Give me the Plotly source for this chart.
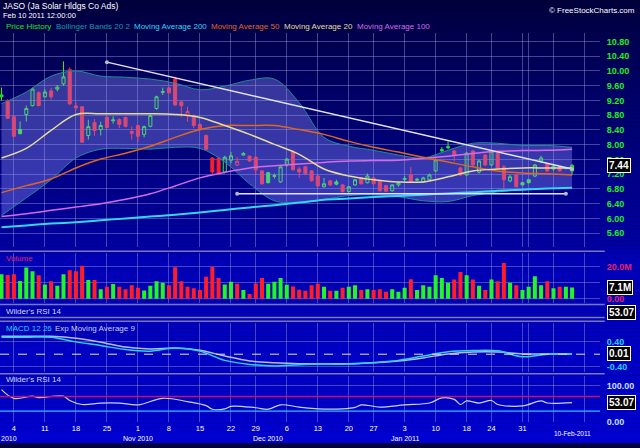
import pandas as pd
import plotly.graph_objects as go

# ---- data -------------------------------------------------------------
holidays = ["2010-11-25", "2010-12-24", "2011-01-17"]
days = [d.strftime("%Y-%m-%d") for d in pd.bdate_range("2010-09-30", "2011-02-18")]
days = [d for d in days if d not in holidays]
pos = {d: i for i, d in enumerate(days)}

opens = [9.30, 9.20, 8.76, 8.41, 8.82, 9.06, 9.41, 9.30, 9.46, 9.51, 9.65, 10.04, 9.05, 9.03, 8.25, 8.60,
         8.41, 8.74, 8.65, 8.68, 8.74, 8.36, 8.52, 8.28, 8.50, 8.98, 9.42, 9.54, 9.78, 9.16, 8.79, 8.76,
         8.55, 8.25, 7.64, 7.64, 7.26, 7.58, 7.45, 7.72, 7.69, 7.66, 7.29, 7.24, 7.14, 6.99, 7.45, 7.80,
         7.34, 7.40, 7.29, 7.15, 6.86, 7.02, 6.99, 6.91, 6.73, 6.91, 7.10, 6.97, 7.10, 7.02, 6.89, 6.75,
         6.91, 7.06, 7.18, 7.04, 6.99, 7.05, 7.29, 7.84, 7.92, 7.83, 7.37, 7.18, 7.83, 7.26, 7.72, 7.45,
         7.77, 7.40, 7.02, 7.18, 6.97, 7.05, 7.15, 7.56, 7.48, 7.34, 7.40, 7.36, 7.29]
highs = [9.55, 9.24, 8.80, 8.63, 9.06, 9.55, 9.45, 9.51, 9.54, 9.62, 10.26, 10.10, 9.15, 9.05, 8.68, 8.70,
         8.63, 8.78, 8.77, 8.72, 8.76, 8.50, 8.54, 8.52, 8.82, 9.33, 9.55, 9.57, 9.84, 9.20, 9.03, 8.82,
         8.58, 8.28, 7.66, 7.66, 7.70, 7.80, 7.66, 7.80, 7.71, 7.68, 7.31, 7.26, 7.22, 7.42, 7.64, 7.85,
         7.40, 7.42, 7.31, 7.18, 7.10, 7.04, 7.05, 6.93, 6.88, 7.07, 7.12, 7.22, 7.12, 7.04, 6.91, 6.93,
         6.99, 7.15, 7.40, 7.10, 7.13, 7.22, 7.62, 7.94, 8.09, 7.86, 7.40, 7.80, 7.85, 7.60, 7.75, 7.86,
         7.80, 7.45, 7.18, 7.20, 6.99, 7.07, 7.48, 7.70, 7.50, 7.45, 7.42, 7.40, 7.47]
lows = [9.20, 8.70, 8.20, 8.28, 8.63, 9.04, 9.04, 9.28, 9.22, 9.45, 9.60, 9.08, 8.92, 8.05, 8.14, 8.24,
        8.25, 8.45, 8.57, 8.45, 8.47, 8.14, 8.07, 8.20, 8.47, 8.95, 9.35, 9.38, 9.05, 8.75, 8.62, 8.45,
        8.38, 7.85, 7.18, 7.20, 7.22, 7.50, 7.42, 7.70, 7.54, 7.18, 6.92, 6.95, 7.08, 6.97, 7.40, 7.30,
        7.10, 7.18, 7.00, 6.86, 6.84, 6.88, 6.90, 6.70, 6.70, 6.88, 6.92, 6.95, 6.92, 6.73, 6.72, 6.73,
        6.86, 7.00, 6.97, 7.00, 6.97, 7.02, 7.26, 7.78, 7.88, 7.55, 7.15, 7.15, 7.40, 7.22, 7.42, 7.42,
        7.35, 6.78, 6.98, 6.84, 6.89, 6.95, 7.12, 7.50, 7.26, 7.30, 7.27, 7.33, 7.18]
closes = [9.35, 8.72, 8.23, 8.30, 8.98, 9.51, 9.06, 9.43, 9.30, 9.56, 9.84, 9.11, 9.00, 8.07, 8.49, 8.38,
          8.52, 8.47, 8.67, 8.55, 8.50, 8.31, 8.23, 8.49, 8.79, 9.30, 9.44, 9.41, 9.08, 9.06, 8.90, 8.52,
          8.41, 7.88, 7.26, 7.23, 7.66, 7.70, 7.55, 7.76, 7.56, 7.32, 6.94, 6.97, 7.16, 7.40, 7.61, 7.32,
          7.26, 7.21, 7.02, 6.88, 6.94, 6.91, 6.93, 6.73, 6.86, 7.05, 6.94, 7.15, 6.94, 6.75, 6.74, 6.91,
          6.97, 7.08, 6.99, 7.06, 7.10, 7.18, 7.59, 7.86, 7.94, 7.72, 7.18, 7.77, 7.45, 7.56, 7.45, 7.83,
          7.37, 7.05, 7.13, 6.86, 6.91, 6.97, 7.45, 7.64, 7.29, 7.42, 7.29, 7.38, 7.44]
volume_m = [15.4, 15.0, 15.4, 11.2, 19.6, 17.3, 14.8, 8.9, 11.0, 8.1, 15.4, 17.9, 17.3, 20.8, 11.7, 11.7,
            6.0, 7.5, 9.2, 7.5, 6.0, 8.5, 6.9, 5.2, 8.1, 11.0, 10.0, 8.5, 19.8, 11.0, 7.5, 6.5,
            5.4, 13.8, 20.0, 13.1, 8.9, 10.6, 9.4, 5.4, 2.9, 9.6, 13.1, 9.4, 10.6, 13.1, 8.8, 7.7,
            5.6, 5.0, 8.5, 9.4, 7.5, 5.0, 5.0, 6.9, 7.5, 8.5, 5.4, 6.0, 5.4, 6.0, 4.4, 6.0,
            4.4, 6.9, 12.3, 5.4, 8.5, 7.5, 14.8, 13.1, 10.0, 12.1, 16.9, 14.8, 12.1, 8.1, 5.4, 12.1,
            11.0, 22.5, 10.0, 8.5, 5.4, 7.5, 14.2, 8.5, 11.0, 6.5, 7.5, 7.5, 7.1]

# indicator readings, every 4th session
ind_idx = list(range(0, 93, 4))
ma20 = [7.64, 7.90, 8.39, 8.82, 8.84, 8.84, 8.84, 8.82, 8.74, 8.52, 8.28, 8.01,
        7.74, 7.34, 7.15, 7.05, 6.99, 6.99, 7.13, 7.29, 7.34, 7.37, 7.37, 7.37]
ma50 = [6.70, 6.89, 7.07, 7.37, 7.61, 7.77, 7.96, 8.20, 8.41, 8.52, 8.52, 8.52,
        8.41, 8.28, 8.09, 7.93, 7.80, 7.66, 7.53, 7.40, 7.29, 7.23, 7.21, 7.18]
ma100 = [6.05, 6.13, 6.22, 6.31, 6.40, 6.52, 6.67, 6.88, 7.10, 7.25, 7.37, 7.43,
         7.48, 7.52, 7.56, 7.57, 7.58, 7.63, 7.69, 7.76, 7.82, 7.84, 7.85, 7.88]
ma200 = [5.76, 5.81, 5.86, 5.90, 5.95, 6.00, 6.05, 6.10, 6.16, 6.23, 6.30, 6.36,
         6.43, 6.51, 6.54, 6.58, 6.61, 6.64, 6.68, 6.71, 6.75, 6.78, 6.81, 6.83]
bb_upper = [9.11, 9.43, 9.86, 10.00, 9.86, 9.83, 9.78, 9.67, 9.49, 9.59, 9.75, 9.78,
            9.14, 8.20, 7.96, 7.85, 7.72, 7.64, 7.85, 8.04, 8.04, 7.98, 7.98, 7.93]
bb_lower = [6.08, 6.56, 7.05, 7.64, 7.88, 7.90, 7.88, 7.93, 7.90, 7.53, 6.94, 6.48,
            6.43, 6.51, 6.62, 6.64, 6.59, 6.48, 6.46, 6.62, 6.72, 6.78, 6.81, 6.83]
macd = [0.55, 0.55, 0.55, 0.40, 0.28, 0.15, 0.10, 0.20, 0.10, -0.20, -0.33, -0.38,
        -0.34, -0.32, -0.32, -0.27, -0.20, -0.06, 0.08, 0.12, 0.11, -0.08, 0.00, 0.01]
macd_signal = [0.58, 0.58, 0.58, 0.52, 0.39, 0.23, 0.17, 0.20, 0.13, -0.06, -0.22, -0.28,
               -0.31, -0.31, -0.31, -0.28, -0.22, -0.12, 0.01, 0.07, 0.07, 0.01, 0.01, 0.01]

rsi_idx = [0, 2, 5, 6, 10, 11, 13, 16, 19, 22, 26, 30, 33, 34, 36, 37, 41, 43, 45, 48, 51,
           55, 57, 58, 61, 65, 69, 71, 73, 74, 75, 77, 79, 80, 84, 87, 88, 92]
rsi = [89, 65, 71, 67, 71, 59, 48, 52, 52, 47, 65, 56, 45, 35, 36, 43, 39, 35, 47, 41, 36,
       36, 40, 47, 41, 47, 52, 66, 62, 48, 58, 52, 59, 48, 44, 58, 52, 53.07]

# drawn trend lines
resist_days = ["2010-10-25", "2011-02-10"]
resist_px = [10.24, 7.34]
support_days = ["2010-11-23", "2011-02-09"]
support_px = [6.67, 6.67]

tick_days = ["2010-10-04", "2010-10-11", "2010-10-18", "2010-10-25", "2010-11-01", "2010-11-08",
             "2010-11-15", "2010-11-22", "2010-11-29", "2010-12-06", "2010-12-13", "2010-12-20",
             "2010-12-27", "2011-01-03", "2011-01-10", "2011-01-18", "2011-01-24", "2011-01-31",
             "2011-02-01", "2011-02-07", "2011-02-14"]
tick_text = ["4", "11", "18", "25", "1", "8", "15", "22", "29", "6", "13", "20", "27", "3",
             "10", "18", "24", "31", "", "", ""]
month_days = ["2010-11-01", "2010-12-01", "2011-01-03"]
month_text = ["Nov 2010", "Dec 2010", "Jan 2011"]

# ---- figure -----------------------------------------------------------
n = len(closes)
idx = list(range(n))
FONT = "Liberation Sans, Arial, sans-serif"
GREEN = "#22f522"
RED = "#ff1e28"
GRID = "rgba(150,150,215,0.45)"


def py(px):
    return 1 - px / 448.0


fig = go.Figure()

# bollinger bands
fig.add_trace(go.Scatter(x=ind_idx, y=bb_lower, mode="lines", line=dict(color="#1f8c96", width=1, shape="spline"),
                         xaxis="x", yaxis="y"))
fig.add_trace(go.Scatter(x=ind_idx, y=bb_upper, mode="lines", line=dict(color="#1f8c96", width=1, shape="spline"),
                         fill="tonexty", fillcolor="rgba(150,150,255,0.36)", xaxis="x", yaxis="y"))

for vals, col, w in [(ma200, "#33d6f5", 2), (ma100, "#d66ae6", 1.5), (ma50, "#e0661e", 1.5), (ma20, "#e6dc96", 1.5)]:
    fig.add_trace(go.Scatter(x=ind_idx, y=vals, mode="lines", line=dict(color=col, width=w, shape="spline"),
                             xaxis="x", yaxis="y"))

for dd, pp in [(resist_days, resist_px), (support_days, support_px)]:
    fig.add_trace(go.Scatter(x=[pos[d] for d in dd], y=pp, mode="lines+markers",
                             line=dict(color="#e4e4f0", width=1.5), marker=dict(size=4, color="#b8b8c8"),
                             xaxis="x", yaxis="y"))

# candles: colour by change vs previous close, hollow when close > open
up = [True] + [closes[i] >= closes[i - 1] for i in range(1, n)]
for flag, col in [(False, RED), (True, GREEN)]:
    sel = [i for i in idx if up[i] == flag]
    fig.add_trace(go.Candlestick(
        x=sel, open=[opens[i] for i in sel], high=[highs[i] for i in sel],
        low=[lows[i] for i in sel], close=[closes[i] for i in sel],
        increasing=dict(line=dict(color=col, width=1), fillcolor="rgba(0,0,0,0)"),
        decreasing=dict(line=dict(color=col, width=1), fillcolor=col),
        whiskerwidth=0, xaxis="x", yaxis="y"))

fig.add_trace(go.Bar(x=idx, y=[v * 1e6 for v in volume_m], marker=dict(color=[GREEN if u else RED for u in up], line_width=0),
                     width=0.65, xaxis="x2", yaxis="y2"))

fig.add_trace(go.Scatter(x=ind_idx, y=macd_signal, mode="lines", line=dict(color="#b4bce0", width=1.5, shape="spline"),
                         xaxis="x3", yaxis="y3"))
fig.add_trace(go.Scatter(x=ind_idx, y=macd, mode="lines", line=dict(color="#2ad2f4", width=1.5, shape="spline"),
                         xaxis="x3", yaxis="y3"))

fig.add_trace(go.Scatter(x=rsi_idx, y=rsi, mode="lines", line=dict(color="#c8d2f0", width=1.2, shape="spline"),
                         xaxis="x4", yaxis="y4"))

# ---- layout -----------------------------------------------------------
xr = [-0.24, 96.5]
tv = [pos[d] for d in tick_days]
xcommon = dict(range=xr, domain=[0, 0.9375], tickvals=tv, showgrid=True, gridcolor=GRID, gridwidth=1,
               zeroline=False, showline=False, ticks="", fixedrange=True)


def yax(domain, rng, vals, text, color):
    return dict(domain=domain, range=rng, side="right", tickvals=vals, ticktext=text, showgrid=True,
                gridcolor=GRID, zeroline=False, showline=False, ticks="outside", ticklen=4,
                tickcolor="rgba(0,0,0,0)", fixedrange=True,
                tickfont=dict(color=color, size=9, family=FONT, weight="bold"))


pvals = [5.6 + 0.4 * k for k in range(14)]
layout = dict(
    width=640, height=448, margin=dict(l=0, r=0, t=0, b=0),
    paper_bgcolor="#00003c", plot_bgcolor="rgba(0,0,0,0)", showlegend=False,
    font=dict(family=FONT, color="white", size=8), hovermode=False,
    xaxis=dict(xcommon, anchor="y", showticklabels=False, rangeslider=dict(visible=False)),
    xaxis2=dict(xcommon, anchor="y2", matches="x", showticklabels=False),
    xaxis3=dict(xcommon, anchor="y3", matches="x", showticklabels=False),
    xaxis4=dict(xcommon, anchor="y4", matches="x", ticktext=tick_text, showticklabels=True,
                tickfont=dict(color="white", size=7.5, family=FONT)),
    yaxis=yax([py(250), py(33)], [5.22, 11.04], pvals, ["%.2f" % v for v in pvals], "#22ee22"),
    yaxis2=yax([py(306), py(256)], [-2.5e6, 28.75e6], [0, 10e6, 20e6], ["0.00", "10.0M", "20.0M"], "#e8206e"),
    yaxis3=yax([py(376), py(327)], [-0.57, 1.0], [-0.4, 0.4], ["-0.40", "0.40"], "#22d2f2"),
    yaxis4=yax([py(427), py(380)], [-0.8, 127], [0, 100], ["0.00", "100.00"], "#c8e0ff"),
)
fig.update_layout(**layout)

# background gradient and panel separators
stops = [(0, (0, 0, 58)), (40, (0, 0, 80)), (250, (0, 0, 165)), (254, (0, 0, 178)), (448, (0, 0, 210))]


def bg(y):
    for (y0, c0), (y1, c1) in zip(stops, stops[1:]):
        if y <= y1:
            t = (y - y0) / (y1 - y0)
            return "rgb(%d,%d,%d)" % tuple(round(a + (b - a) * t) for a, b in zip(c0, c1))
    return "rgb(0,0,210)"


shapes = []
for y in range(0, 448, 4):
    shapes.append(dict(type="rect", xref="paper", yref="paper", x0=0, x1=1, y0=py(y + 4), y1=py(y),
                       fillcolor=bg(y + 2), line_width=0, layer="below"))
for y in [254, 308, 321, 325, 378]:
    shapes.append(dict(type="line", xref="paper", yref="paper", x0=0, x1=0.945, y0=py(y), y1=py(y),
                       line=dict(color="#7878b8", width=1.5)))
shapes.append(dict(type="line", xref="paper", yref="y3", x0=0, x1=0.9375, y0=0, y1=0,
                   line=dict(color="#e0e0f0", width=1, dash="dash")))
shapes.append(dict(type="line", xref="paper", yref="y4", x0=0, x1=0.9375, y0=70, y1=70,
                   line=dict(color="#c0127a", width=1.5)))
shapes.append(dict(type="line", xref="paper", yref="y4", x0=0, x1=0.9375, y0=30, y1=30,
                   line=dict(color="#30c0ff", width=1.2)))
fig.update_layout(shapes=shapes)

ann = []


def text(x, y, s, color="white", size=8, anchor="left"):
    ann.append(dict(xref="paper", yref="paper", x=x / 640.0, y=py(y), text=s, showarrow=False,
                    xanchor=anchor, yanchor="middle", font=dict(color=color, size=size, family=FONT)))


text(1, 6, "JASO (Ja Solar Hldgs Co Ads)", size=8.5)
text(1, 16, "Feb 10 2011 12:00:00", size=7.5)
text(637, 11, "© FreeStockCharts.com", size=8, anchor="right")
legend = [(4, "Price History", "#22e022"), (54, "Bollinger Bands 20 2", "#1f9aa0"),
          (132, "Moving Average 200", "#33d6f5"), (209, "Moving Average 50", "#e0661e"),
          (282, "Moving Average 20", "#e6dc96"), (355, "Moving Average 100", "#d66ae6")]
for x, s, c in legend:
    text(x, 27, s, color=c, size=8)
text(4, 261, "Volume", color="#e8206e")
text(4, 315, "Wilder's RSI 14", color="#d0dcf0")
text(4, 332, "MACD 12 26", color="#22d2f2")
text(53, 332, "Exp Moving Average 9", color="#c8d0e8")
text(4, 384, "Wilder's RSI 14", color="#d0dcf0")
ann.append(dict(xref="paper", yref="paper", x=0, y=0, text="2010", showarrow=False, xanchor="left",
                yanchor="bottom", borderpad=0, font=dict(color="white", size=7, family=FONT)))

for d, s in zip(month_days, month_text):
    ann.append(dict(xref="x4", yref="paper", x=pos[d], y=0, text=s, showarrow=False, borderpad=0,
                    yanchor="bottom", font=dict(color="white", size=7, family=FONT)))
ann.append(dict(xref="x4", yref="paper", x=pos["2011-02-10"], y=py(438), text="10-Feb-2011", showarrow=False,
                yanchor="middle", font=dict(color="white", size=6.5, family=FONT)))

# last-value boxes
for yref, yv, s in [("y", closes[-1], "%.2f" % closes[-1]), ("y2", volume_m[-1] * 1e6, "%.1fM" % volume_m[-1]),
                    ("y3", macd[-1], "%.2f" % macd[-1]), ("y4", rsi[-1], "%.2f" % rsi[-1])]:
    ann.append(dict(xref="paper", yref=yref, x=607 / 640.0, y=yv, text="<b>%s</b>" % s, showarrow=False,
                    xanchor="left", yanchor="middle", bgcolor="black", bordercolor="white", borderwidth=1,
                    borderpad=1, font=dict(color="white", size=10, family=FONT)))
ann.append(dict(xref="paper", yref="paper", x=607 / 640.0, y=py(316), text="<b>%.2f</b>" % rsi[-1],
                showarrow=False, xanchor="left", yanchor="middle", bgcolor="black", bordercolor="white",
                borderwidth=1, borderpad=1, font=dict(color="white", size=10, family=FONT)))
fig.update_layout(annotations=ann)

fig.write_html("out.html", config={"displayModeBar": False, "staticPlot": True},
               post_script="document.body.style.margin='0px';document.body.style.overflow='hidden';")
